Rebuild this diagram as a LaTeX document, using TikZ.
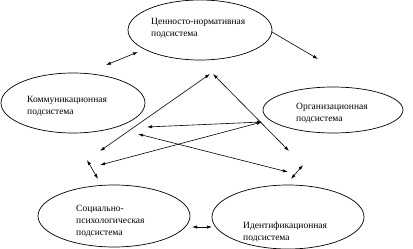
\documentclass[tikz,border=0pt]{standalone}
\usepackage{fontspec}
\setmainfont{Liberation Serif}
\usetikzlibrary{shapes.geometric,arrows.meta}
\begin{document}
\begin{tikzpicture}[x=1pt,y=-1pt,
  oval/.style={draw,ellipse,line width=0.7pt,inner sep=0pt},
  lbl/.style={anchor=north west,inner sep=0pt,align=left,font=\fontsize{9.5}{12}\selectfont},
  both/.style={line width=0.6pt,{Latex[length=5pt,width=3.2pt]}-{Latex[length=5pt,width=3.2pt]}},
  one/.style={line width=0.6pt,-{Latex[length=5pt,width=3.2pt]}}]
\useasboundingbox (0,0) rectangle (413,249);
% ellipses
\node[oval,minimum width=144pt,minimum height=60pt] (nv) at (200,30) {};
\node[oval,minimum width=144pt,minimum height=60pt] (km) at (73,103) {};
\node[oval,minimum width=140pt,minimum height=46pt] (org) at (333,110) {};
\node[oval,minimum width=152pt,minimum height=62pt] (sp) at (114,216) {};
\node[oval,minimum width=152pt,minimum height=64pt] (id) at (288,217) {};
% labels
\node[lbl] (tnv) at (151,18.5) {Ценносто-нормативная\\подсистема};
\node[lbl] (tkm) at (27,96.5) {Коммуникационная\\подсистема};
\node[lbl] (torg) at (296,103) {Организационная\\подсистема};
\node[lbl] (tsp) at (76,205) {Социально-\\психологическая\\подсистема};
\node[lbl] (tid) at (243,222) {Идентификационная\\подсистема};
% end points
\coordinate (a1s) at (106,65); \coordinate (a1e) at (138,52);
\coordinate (a2s) at (272,32); \coordinate (a2e) at (318,59);
\coordinate (a3s) at (100,151); \coordinate (a3e) at (210,74);
\coordinate (a4s) at (213,74); \coordinate (a4e) at (289,151);
\coordinate (hub) at (262,122);
\coordinate (a5s) at (147,127);
\coordinate (a6s) at (100,165);
\coordinate (a7s) at (138,134); \coordinate (a7e) at (288,172);
\coordinate (a8s) at (87,160); \coordinate (a8e) at (98,179);
\coordinate (a9s) at (291,179); \coordinate (a9e) at (303,165);
\coordinate (a10s) at (192,227); \coordinate (a10e) at (212,227);
% connectors
\draw[both] (a1s) -- (a1e);
\draw[one] (a2s) -- (a2e);
\draw[both] (a3s) -- (a3e);
\draw[both] (a4s) -- (a4e);
\draw[both] (a5s) -- (hub);
\draw[both] (a6s) -- (hub);
\draw[both] (a7s) -- (a7e);
\draw[both] (a8s) -- (a8e);
\draw[both] (a9s) -- (a9e);
\draw[both] (a10s) -- (a10e);
\end{tikzpicture}
\end{document}
